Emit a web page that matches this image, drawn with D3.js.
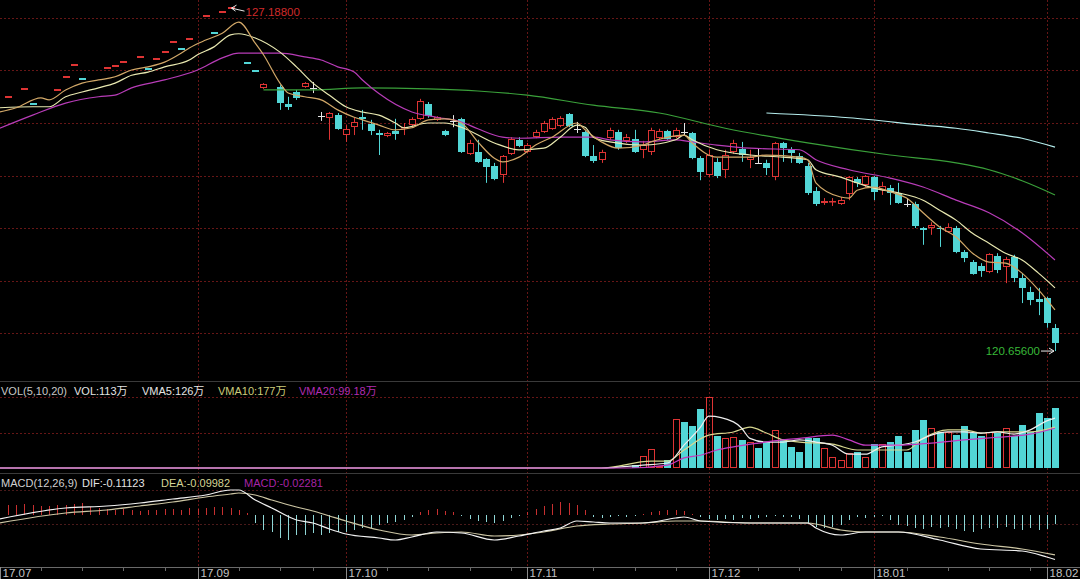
<!DOCTYPE html>
<html><head><meta charset="utf-8">
<script src="https://cdn.jsdelivr.net/npm/d3@7"></script>
<style>html,body{margin:0;padding:0;background:#000;overflow:hidden}svg{display:block}</style>
</head><body>
<svg id="c" width="1080" height="579"></svg>
<script>
// ---------- data ----------
const monthLabels = ["17.07","17.09","17.10","17.11","17.12","18.01","18.02"];
const monthIdx    = [0, 24, 42, 64, 86, 106, 127];
const weekTickIdx = [5,10,15,20,29,34,38,47,52,57,62,67,72,77,82,92,97,102,110,115,120,125];
const priceTicks  = [121,122,123,124,125,126,127];
const volGrid     = [67,134];
const macdGrid    = [0.0625,-0.0225];

// flat (no-range) days: [index, price]
const flatDays = [[1,125.50],[3,125.65],[4,125.36],[7,125.63],[8,125.88],[9,126.10],[10,125.84],[13,126.05],[14,126.09],[15,126.16],[17,126.26],[18,126.03],[19,126.22],[20,126.35],[21,126.54],[22,126.41],[23,126.60],[25,127.04],[26,126.71],[27,127.11],[28,127.188],[30,126.14],[31,125.99]];

// [index, open, high, low, close]
const ohlc = [
[32,125.67,125.76,125.65,125.74],[34,125.69,125.72,125.25,125.38],[35,125.36,125.50,125.25,125.31],
[36,125.59,125.63,125.44,125.48],[37,125.69,125.78,125.67,125.76],[38,125.67,125.78,125.57,125.67],
[39,125.13,125.21,125.04,125.13],[40,125.10,125.21,124.68,125.19],[41,125.15,125.19,124.87,124.89],
[42,124.77,124.96,124.64,124.89],[43,124.92,125.10,124.77,125.02],[44,125.11,125.25,124.87,125.08],
[45,124.98,125.06,124.77,124.85],[46,124.81,124.87,124.39,124.77],[47,124.75,124.83,124.73,124.81],
[48,124.85,125.08,124.68,124.79],[49,124.91,125.00,124.77,124.92],[50,124.96,125.11,124.94,125.08],
[51,125.08,125.46,125.06,125.42],[52,125.36,125.40,125.10,125.13],[53,125.06,125.13,125.04,125.11],
[54,124.85,124.87,124.75,124.77],[55,125.04,125.15,124.92,125.04],[56,125.08,125.10,124.43,124.45],
[57,124.41,124.68,124.39,124.62],[58,124.45,124.68,124.24,124.26],[59,124.31,124.33,123.86,124.16],
[60,124.18,124.24,123.91,123.93],[61,124.01,124.39,123.86,124.37],[62,124.41,124.73,124.39,124.70],
[63,124.68,124.73,124.54,124.56],[64,124.45,124.62,124.43,124.58],[65,124.73,124.87,124.71,124.83],
[66,124.83,125.04,124.81,125.00],[67,124.89,125.11,124.87,125.08],[68,124.94,125.13,124.92,125.10],
[69,125.17,125.19,124.92,124.94],[70,124.89,125.02,124.81,124.89],[71,124.83,124.85,124.35,124.37],
[72,124.37,124.58,124.24,124.28],[73,124.30,124.49,124.24,124.45],[74,124.71,124.91,124.68,124.87],
[75,124.83,124.87,124.49,124.52],[76,124.66,124.79,124.62,124.73],[77,124.70,124.87,124.43,124.45],
[78,124.49,124.66,124.33,124.58],[79,124.45,124.91,124.39,124.87],[80,124.71,124.89,124.68,124.85],
[81,124.85,124.87,124.68,124.70],[82,124.73,124.91,124.71,124.87],[83,124.83,125.00,124.77,124.83],
[84,124.81,124.83,124.31,124.33],[85,124.33,124.37,123.91,124.07],[86,124.01,124.49,123.97,124.39],
[87,124.26,124.33,123.95,123.99],[88,124.11,124.49,123.95,124.39],[89,124.45,124.68,124.41,124.62],
[90,124.51,124.64,124.26,124.39],[91,124.30,124.49,124.14,124.35],[92,124.24,124.52,124.22,124.24],
[93,124.24,124.30,124.01,124.14],[94,123.97,124.64,123.91,124.62],[95,124.62,124.64,124.26,124.52],
[96,124.51,124.54,124.24,124.43],[97,124.37,124.43,124.22,124.24],[98,124.18,124.24,123.63,123.67],
[99,123.71,123.78,123.42,123.46],[100,123.48,123.57,123.44,123.51],[101,123.49,123.57,123.42,123.51],
[102,123.46,123.59,123.44,123.53],[103,123.65,123.99,123.53,123.97],[104,123.93,123.97,123.78,123.86],
[105,123.82,124.01,123.78,123.99],[106,123.97,123.99,123.53,123.69],[107,123.72,123.88,123.63,123.80],
[108,123.76,123.82,123.44,123.67],[109,123.67,123.86,123.46,123.48],[110,123.46,123.57,123.40,123.46],
[111,123.46,123.50,123.00,123.04],[112,123.00,123.02,122.68,122.96],[113,123.00,123.11,122.87,123.06],
[114,123.00,123.04,122.64,122.98],[115,122.92,123.09,122.91,123.02],[116,123.00,123.04,122.52,122.54],
[117,122.54,122.58,122.35,122.43],[118,122.35,122.39,122.11,122.12],[119,122.28,122.33,122.07,122.18],
[120,122.16,122.52,122.14,122.51],[121,122.47,122.52,122.14,122.20],[122,122.26,122.45,121.95,122.41],
[123,122.45,122.49,121.97,122.05],[124,122.05,122.14,121.57,121.86],[125,121.78,121.88,121.53,121.63],
[126,121.65,121.86,121.34,121.59],[127,121.67,121.69,121.10,121.19],[128,121.10,121.17,120.656,120.81]
];

const ma5 = [[0,125.21],[2,125.29],[5,125.48],[6,125.44],[8,125.63],[10,125.76],[12,125.82],[14,125.88],[16,126.01],[18,126.07],[20,126.16],[22,126.33],[23,126.43],[25,126.58],[27,126.71],[29,126.92],[31,126.52],[32,126.30],[34,125.76],[35,125.57],[37,125.50],[39,125.44],[41,125.25],[43,125.11],[44,125.06],[46,124.96],[48,124.87],[50,124.91],[52,125.06],[54,125.08],[56,125.00],[58,124.64],[60,124.33],[61,124.26],[63,124.35],[65,124.58],[67,124.73],[70,125.00],[71,124.87],[73,124.64],[75,124.52],[78,124.58],[79,124.64],[83,124.77],[84,124.62],[87,124.35],[91,124.35],[93,124.39],[97,124.35],[98,124.30],[99,123.86],[102,123.59],[103,123.57],[104,123.72],[106,123.78],[108,123.69],[110,123.57],[112,123.29],[114,123.02],[116,122.83],[118,122.52],[120,122.35],[122,122.33],[124,122.14],[126,121.82],[128,121.44]];
const ma10 = [[0,125.29],[4,125.31],[6,125.31],[8,125.50],[10,125.59],[12,125.67],[14,125.76],[16,125.91],[18,125.97],[20,126.07],[23,126.20],[24,126.30],[26,126.45],[28,126.68],[29,126.70],[31,126.62],[34,126.35],[36,126.07],[38,125.76],[40,125.53],[42,125.31],[44,125.21],[46,125.15],[48,125.00],[49,124.91],[52,125.00],[54,125.00],[56,124.92],[60,124.62],[63,124.49],[66,124.52],[68,124.73],[70,124.96],[71,124.92],[72,124.73],[74,124.64],[78,124.58],[82,124.68],[83,124.77],[84,124.68],[87,124.49],[91,124.39],[95,124.35],[98,124.30],[99,124.11],[102,123.97],[104,123.86],[106,123.76],[109,123.67],[112,123.53],[114,123.34],[116,123.15],[118,122.90],[120,122.71],[122,122.52],[124,122.39],[126,122.14],[128,121.86]];
const ma20 = [[0,124.90],[4,125.15],[8,125.38],[12,125.50],[14,125.53],[16,125.67],[20,125.82],[24,126.01],[27,126.24],[29,126.33],[34,126.33],[37,126.26],[39,126.20],[41,126.07],[43,125.97],[44,125.82],[46,125.56],[50,125.21],[53,125.11],[56,125.02],[58,124.89],[61,124.73],[63,124.71],[68,124.73],[72,124.73],[74,124.68],[78,124.64],[82,124.68],[84,124.64],[87,124.58],[91,124.52],[97,124.49],[99,124.30],[103,124.11],[108,123.95],[112,123.78],[116,123.53],[120,123.29],[124,122.91],[128,122.39]];
const ma60 = [[32,125.63],[38,125.63],[44,125.67],[52,125.65],[58,125.61],[64,125.53],[72,125.34],[80,125.19],[88,124.90],[98,124.62],[108,124.39],[116,124.24],[120,124.11],[124,123.90],[128,123.63]];
const ma120 = [[93,125.19],[103,125.10],[112,124.96],[116,124.90],[120,124.81],[124,124.71],[128,124.54]];

// volume (万): [index, volume]
const volumes = [[77,5],[78,23],[79,36],[80,4],[81,15],[82,92],[83,87],[84,79],[85,111],[86,134],[87,60],[88,56],[89,58],[90,53],[91,49],[92,38],[93,49],[94,72],[95,55],[96,40],[97,30],[98,56],[99,56],[100,38],[101,21],[102,15],[103,28],[104,30],[105,21],[106,45],[107,45],[108,49],[109,60],[110,30],[111,72],[112,90],[113,75],[114,68],[115,68],[116,62],[117,79],[118,66],[119,60],[120,68],[121,66],[122,75],[123,60],[124,81],[125,68],[126,104],[127,94],[128,113]];
const vma5  = [[0,0],[73,0],[78,5.6],[81,9.4],[83,43],[85,77],[86,98],[89,87],[90,75],[91,56],[93,49],[95,49],[97,53],[99,49],[101,43],[103,26],[105,26],[107,40],[109,43],[111,49],[113,62],[115,68],[117,68],[119,66],[121,68],[123,64],[125,72],[127,89],[128,94]];
const vma10 = [[0,0],[73,0],[79,13],[81,13],[83,34],[86,62],[89,68],[91,77],[93,66],[95,53],[97,49],[101,45],[104,34],[107,34],[110,34],[112,56],[115,72],[117,72],[119,66],[121,68],[125,68],[128,77]];
const vma20 = [[0,0],[76,0],[81,5.6],[83,19],[85,24],[87,34],[89,40],[92,47],[95,53],[97,56],[101,62],[103,53],[105,43],[109,43],[113,47],[117,53],[121,58],[125,64],[128,75]];

// MACD
const dif = [[0,-0.010],[8,0.0175],[13,0.0225],[17,0.030],[21,0.040],[25,0.050],[28,0.0625],[29,0.0625],[31,0.0375],[33,0.0175],[36,-0.0125],[38,-0.020],[40,-0.035],[42,-0.0475],[46,-0.0575],[48,-0.0625],[50,-0.055],[53,-0.0425],[56,-0.045],[60,-0.0625],[63,-0.0525],[66,-0.040],[68,-0.0325],[70,-0.015],[72,-0.0175],[74,-0.020],[78,-0.020],[82,-0.0075],[83,-0.005],[85,-0.015],[91,-0.020],[98,-0.020],[99,-0.0325],[102,-0.050],[105,-0.0425],[109,-0.0425],[114,-0.0625],[119,-0.085],[124,-0.090],[127,-0.105],[128,-0.11123]];
const dea = [[0,-0.020],[8,0.005],[13,0.0125],[17,0.0225],[21,0.0325],[25,0.045],[28,0.0525],[29,0.055],[31,0.050],[33,0.0375],[36,0.020],[38,0.010],[40,-0.0025],[42,-0.015],[46,-0.0375],[50,-0.050],[53,-0.045],[56,-0.0425],[60,-0.0525],[63,-0.050],[66,-0.0425],[70,-0.0275],[74,-0.0225],[78,-0.020],[82,-0.015],[85,-0.015],[91,-0.020],[98,-0.020],[102,-0.0375],[105,-0.0425],[109,-0.0425],[114,-0.055],[119,-0.0725],[124,-0.085],[128,-0.09982]];
const macdStart = 1;
const macdHist = [
0.025,0.025,0.0275,0.025,0.0225,0.0225,0.025,0.025,0.0275,0.03,0.02,0.0175,0.015,0.0125,0.015,0.0125,0.01,0.0125,0.0125,0.015,0.015,0.0125,0.0175,0.015,0.0175,0.02,0.02,0.0175,0.0125,0.005,
-0.02,-0.0375,-0.0425,-0.0575,-0.0625,-0.05,-0.05,-0.045,-0.05,-0.045,-0.0425,-0.0425,-0.0375,-0.0325,-0.0325,-0.025,-0.02,-0.0175,-0.0125,-0.005,
0.0075,0.0125,0.015,0.01,0.0075,
-0.0025,-0.01,-0.015,-0.0175,-0.02,-0.015,-0.0075,-0.0025,
0.0075,0.015,0.0225,0.0275,0.0325,0.03,0.025,0.0125,
-0.005,-0.0075,-0.005,-0.0025,-0.005,-0.0025,0.0025,0.0075,0.01,0.0125,0.0125,0.01,0.0025,-0.005,-0.01,-0.0125,-0.01,-0.0125,-0.0075,-0.01,-0.0075,-0.005,-0.0025,-0.005,
-0.005,-0.01,-0.02,-0.03,-0.0325,-0.03,-0.025,-0.0125,-0.005,-0.0075,-0.005,-0.0025,
-0.0125,-0.025,-0.0275,-0.0325,-0.035,-0.03,-0.0325,-0.03,-0.035,-0.04,-0.0425,-0.035,-0.0325,-0.0325,-0.03,-0.035,-0.0375,-0.0325,-0.0375,-0.035,-0.02281
];

const highLabel = "127.18800", lowLabel = "120.65600";
const volHeader = [["VOL(5,10,20)","#c8c8c8"],["VOL:113万","#e4e4e4"],["VMA5:126万","#e4e4e4"],["VMA10:177万","#cccc7a"],["VMA20:99.18万","#b22cb2"]];
const volHeaderX = [1,74,142,218,299];
const macdHeader = [["MACD(12,26,9)","#d0d0d0"],["DIF:-0.11123","#e4e4e4"],["DEA:-0.09982","#d4d494"],["MACD:-0.02281","#a624a6"]];
const macdHeaderX = [1,82,161,244];

// ---------- drawing ----------
const W = 1080, H = 579;
const svg = d3.select("#c");
const RED = "#de3434", CYAN = "#52d6d6", GRID = "#661616";
const FONT = "'Liberation Sans','Noto Sans CJK SC',Arial,sans-serif";

const x  = d3.scaleLinear().domain([0,128]).range([-0.35,1055]);
const yP = d3.scaleLinear().domain([121,127]).range([333,18]);
const yV = d3.scaleLinear().domain([0,134]).range([468,397]);
const yM = d3.scaleLinear().domain([0,0.1]).range([515,475]);
const px = v => Math.round(v) + 0.5;

svg.append("rect").attr("width",W).attr("height",H).attr("fill","#000");

// grids
const g = svg.append("g");
g.selectAll(".hp").data(priceTicks).join("line")
  .attr("x1",0).attr("x2",W).attr("y1",d=>px(yP(d))).attr("y2",d=>px(yP(d)))
  .attr("stroke",GRID).attr("stroke-dasharray","2,2");
g.selectAll(".hv").data(volGrid).join("line")
  .attr("x1",0).attr("x2",W).attr("y1",d=>px(yV(d))).attr("y2",d=>px(yV(d)))
  .attr("stroke",GRID).attr("stroke-dasharray","2,2");
g.selectAll(".hm").data(macdGrid).join("line")
  .attr("x1",0).attr("x2",W).attr("y1",d=>px(yM(d))).attr("y2",d=>px(yM(d)))
  .attr("stroke","#4a1a1a").attr("stroke-dasharray","2,2");
g.selectAll(".vg").data(monthIdx.slice(1)).join("line")
  .attr("x1",d=>px(x(d))).attr("x2",d=>px(x(d))).attr("y1",0).attr("y2",567)
  .attr("stroke",GRID).attr("stroke-dasharray","2,2");

// panel separators and axis
[381.5,473.5].forEach(yy=>svg.append("line").attr("x1",0).attr("x2",W).attr("y1",yy).attr("y2",yy).attr("stroke","#3a3a3a"));
svg.append("line").attr("x1",0).attr("x2",W).attr("y1",567.5).attr("y2",567.5).attr("stroke","#6a6a6a");

// close lookup for colouring
const closeBy = new Map();
flatDays.forEach(d=>closeBy.set(d[0],d[1]));
ohlc.forEach(d=>closeBy.set(d[0],d[4]));
const prevClose = i => { for(let k=i-1;k>=0;k--){ if(closeBy.has(k)) return closeBy.get(k);} return null; };
const isUp = (i,o,c) => c>o || (c===o && (prevClose(i)===null || c>=prevClose(i)));

// flat days
const cg = svg.append("g");
flatDays.forEach(([i,p])=>{
  const up = isUp(i,p,p);
  cg.append("rect").attr("x",Math.round(x(i))-3).attr("y",Math.round(yP(p))-1)
    .attr("width",7).attr("height",2).attr("fill",up?RED:CYAN);
});

// candles
ohlc.forEach(([i,o,h,l,c])=>{
  const cx = px(x(i));
  const yo=yP(o), yc=yP(c), yh=yP(h), yl=yP(l);
  if (o===c) {
    cg.append("line").attr("x1",cx).attr("x2",cx).attr("y1",yh).attr("y2",yl).attr("stroke","#e6e6e6");
    cg.append("line").attr("x1",cx-3.5).attr("x2",cx+3.5).attr("y1",px(yc)).attr("y2",px(yc)).attr("stroke","#e6e6e6");
  } else if (c>o) {
    const top=Math.round(yc), bot=Math.max(Math.round(yo),top+1);
    cg.append("line").attr("x1",cx).attr("x2",cx).attr("y1",yh).attr("y2",top).attr("stroke",RED);
    cg.append("line").attr("x1",cx).attr("x2",cx).attr("y1",bot).attr("y2",yl).attr("stroke",RED);
    cg.append("rect").attr("x",cx-3).attr("y",top+0.5).attr("width",6).attr("height",Math.max(bot-top-1,0.5))
      .attr("fill","#000").attr("stroke",RED);
  } else {
    const top=Math.round(yo), bot=Math.max(Math.round(yc),top+1);
    cg.append("line").attr("x1",cx).attr("x2",cx).attr("y1",yh).attr("y2",yl).attr("stroke",CYAN);
    cg.append("rect").attr("x",cx-3.5).attr("y",top).attr("width",7).attr("height",bot-top).attr("fill",CYAN);
  }
});

// moving averages
const lineP = d3.line().x(d=>x(d[0])).y(d=>yP(d[1])).curve(d3.curveMonotoneX);
[[ma120,"#b4ecec"],[ma60,"#3aa03a"],[ma20,"#b83cb8"],[ma10,"#e8e8b0"],[ma5,"#d2a868"]].forEach(([d,col])=>{
  svg.append("path").attr("d",lineP(d)).attr("fill","none").attr("stroke",col).attr("stroke-width",1.2);
});

// high / low annotations
const hi = flatDays.find(d=>d[1]===127.188);
const hx = x(hi[0]), hy = yP(hi[1]);
svg.append("path").attr("d",`M${hx+14},${hy+3} L${hx+1},${hy} M${hx+1},${hy} l5,-3 M${hx+1},${hy} l4,3`)
  .attr("stroke","#e8e8e8").attr("fill","none");
svg.append("text").attr("x",hx+15).attr("y",hy+8).text(highLabel)
  .attr("fill","#d02a2a").attr("font-family",FONT).attr("font-size",11.5);
const lo = ohlc[ohlc.length-1];
const lx = x(lo[0]), ly = yP(lo[3]);
svg.append("path").attr("d",`M${lx-14},${ly} L${lx-1},${ly} M${lx-1},${ly} l-5,-3 M${lx-1},${ly} l-5,3`)
  .attr("stroke","#e8e8e8").attr("fill","none");
svg.append("text").attr("x",lx-15).attr("y",ly+4).attr("text-anchor","end").text(lowLabel)
  .attr("fill","#38b838").attr("font-family",FONT).attr("font-size",11.5);

// volume bars
const vg = svg.append("g");
volumes.forEach(([i,v])=>{
  const row = ohlc.find(r=>r[0]===i);
  const up = isUp(i,row[1],row[4]);
  const cx = px(x(i));
  const top = Math.round(yV(v)), bot = Math.round(yV(0));
  if (up) vg.append("rect").attr("x",cx-3).attr("y",top+0.5).attr("width",6).attr("height",Math.max(bot-top-1,0.5)).attr("fill","none").attr("stroke",RED);
  else vg.append("rect").attr("x",cx-3.5).attr("y",top).attr("width",7).attr("height",bot-top).attr("fill",CYAN);
});
const lineV = d3.line().x(d=>x(d[0])).y(d=>yV(d[1])).curve(d3.curveMonotoneX);
[[vma10,"#d8d890"],[vma5,"#eeeeee"],[vma20,"#c23cc2"]].forEach(([d,col])=>{
  svg.append("path").attr("d",lineV(d)).attr("fill","none").attr("stroke",col).attr("stroke-width",1.2);
});

// MACD histogram
const mg = svg.append("g");
macdHist.forEach((v,k)=>{
  const i = k + macdStart, cx = px(x(i));
  mg.append("line").attr("x1",cx).attr("x2",cx).attr("y1",yM(0)).attr("y2",yM(v))
    .attr("stroke", v>=0 ? "#c83030" : "#8fd6d6");
});
const lineM = d3.line().x(d=>x(d[0])).y(d=>yM(d[1])).curve(d3.curveMonotoneX);
svg.append("path").attr("d",lineM(dea)).attr("fill","none").attr("stroke","#cdc6a4").attr("stroke-width",1.2);
svg.append("path").attr("d",lineM(dif)).attr("fill","none").attr("stroke","#f2f2f2").attr("stroke-width",1.2);

// headers
volHeader.forEach(([t,col],k)=>svg.append("text").attr("x",volHeaderX[k]).attr("y",395).text(t)
  .attr("fill",col).attr("font-family",FONT).attr("font-size",11));
macdHeader.forEach(([t,col],k)=>svg.append("text").attr("x",macdHeaderX[k]).attr("y",487).text(t)
  .attr("fill",col).attr("font-family",FONT).attr("font-size",11));

// x axis
svg.selectAll(".wt").data(weekTickIdx).join("line")
  .attr("x1",d=>px(x(d))).attr("x2",d=>px(x(d))).attr("y1",567).attr("y2",571).attr("stroke","#6a6a6a");
monthIdx.forEach((d,k)=>{
  const mx = Math.max(px(x(d)),0.5);
  svg.append("line").attr("x1",mx).attr("x2",mx).attr("y1",567).attr("y2",579).attr("stroke","#8a8a8a");
  svg.append("text").attr("x",mx+2).attr("y",577).text(monthLabels[k])
    .attr("fill","#c4c4c4").attr("font-family",FONT).attr("font-size",11.5);
});
</script>
</body></html>
